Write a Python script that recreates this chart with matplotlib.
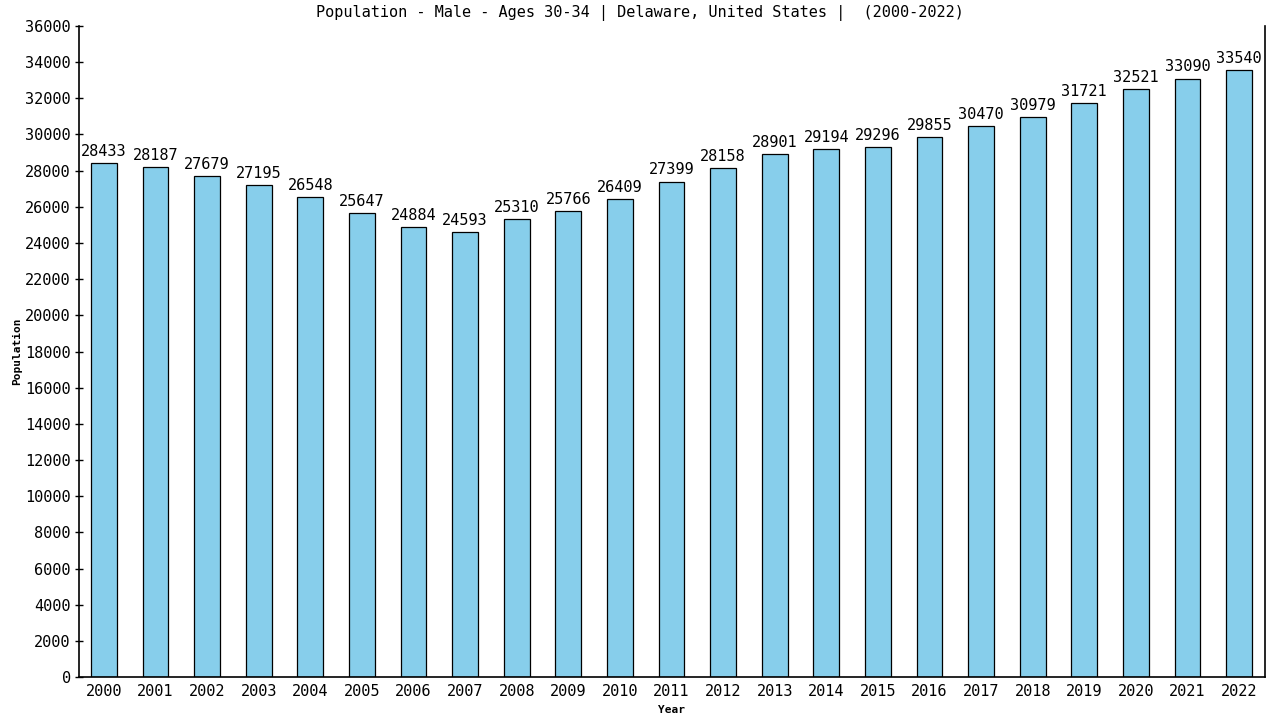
import matplotlib
matplotlib.use('Agg')
import matplotlib.pyplot as plt

# data
years = list(range(2000, 2023))
population = [28433, 28187, 27679, 27195, 26548, 25647, 24884, 24593, 25310, 25766,
              26409, 27399, 28158, 28901, 29194, 29296, 29855, 30470, 30979, 31721,
              32521, 33090, 33540]
yticks = list(range(0, 36001, 2000))

plt.rcParams['font.family'] = ['DejaVu Sans Mono']

fig = plt.figure(figsize=(12.8, 7.2), dpi=100)
ax = fig.add_axes([0.0617, 0.0597, 0.9266, 0.9042])

x = list(range(len(years)))
bars = ax.bar(x, population, width=0.5, color='#87CEEB', edgecolor='black', linewidth=0.9)

# values above bars
for xi, v in zip(x, population):
    ax.annotate(str(v), (xi, v), xytext=(0, 3), textcoords='offset points',
                ha='center', va='bottom', fontsize=11)

ax.set_xlim(-0.485, 22.504)
ax.set_ylim(0, 36000)
ax.set_xticks(x)
ax.set_xticklabels([str(y) for y in years], fontsize=11)
ax.set_yticks(yticks)
ax.set_yticklabels([str(t) for t in yticks], fontsize=11)
ax.tick_params(axis='x', length=0, pad=5)
ax.tick_params(axis='y', length=6, width=1, direction='inout', pad=3)

ax.spines['top'].set_visible(False)
for s in ['left', 'bottom', 'right']:
    ax.spines[s].set_linewidth(1.2)

# title centred on the figure, not the axes
fig.text(0.5, 0.982, 'Population - Male - Ages 30-34 | Delaware, United States |  (2000-2022)',
         ha='center', va='center', fontsize=11)
ax.set_xlabel('Year', fontsize=8, fontweight='bold', labelpad=4)
ax.set_ylabel('Population', fontsize=8, fontweight='bold', labelpad=2)

fig.savefig('out.png', dpi=100)
